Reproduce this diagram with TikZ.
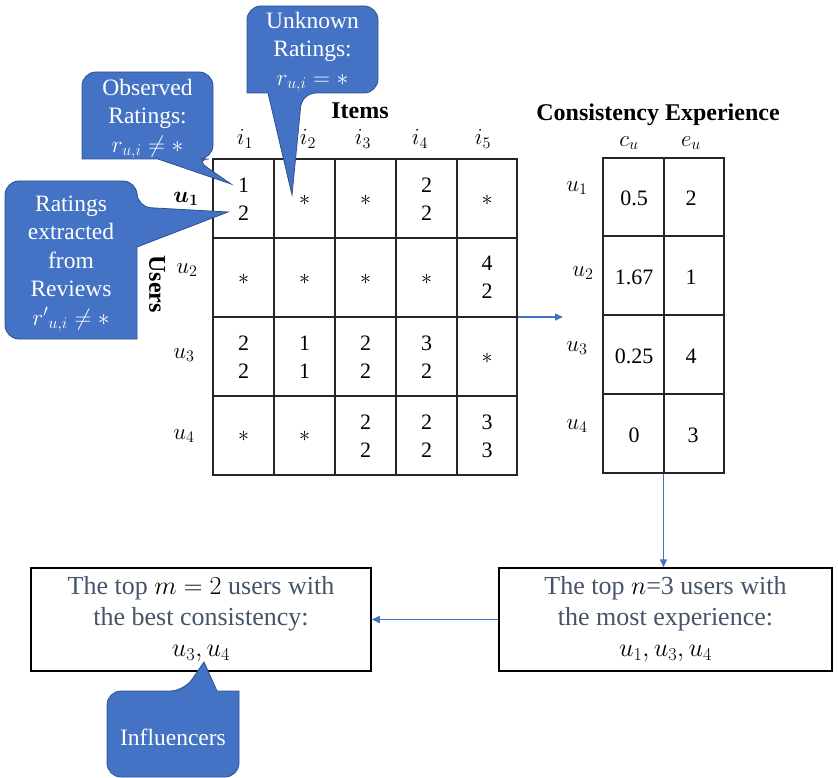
\RequirePackage{fix-cm}
\documentclass[tikz,border=0pt]{standalone}
\usepackage{bm}
\usepackage{fontspec}
\setmainfont{Liberation Serif}
\usetikzlibrary{arrows.meta}
\definecolor{callfill}{HTML}{4472C4}
\definecolor{callline}{HTML}{2F528F}
\definecolor{boxtext}{HTML}{44546A}
\definecolor{gridcol}{HTML}{262626}

\begin{document}
\begin{tikzpicture}[x=1pt,y=-1pt,
  cellnum/.style={font=\fontsize{22}{28}\selectfont, align=center, inner sep=0pt},
  lbl/.style={font=\fontsize{23}{26}\selectfont, inner sep=0pt},
  heading/.style={font=\fontsize{24}{28}\selectfont\bfseries, inner sep=0pt},
  tablebox/.style={draw=gridcol, line width=1.3pt, inner sep=0pt},
  gridline/.style={draw=gridcol, line width=1.3pt},
  callout/.style={fill=callfill, draw=callline, line width=0.8pt},
  callouttext/.style={text=white, align=center, font=\fontsize{23.5}{28.5}\selectfont, inner sep=0pt},
  flow/.style={draw=callfill, line width=1.5pt, -{Triangle[length=8pt,width=7pt]}},
  resultbox/.style={draw=black, line width=1.5pt, inner sep=0pt, text=boxtext,
    align=center, font=\fontsize{26}{31}\selectfont}]
\useasboundingbox (0,0) rectangle (838,778);

% ---------- rating matrix ----------
\node[tablebox, minimum width=304pt, minimum height=316pt] (R) at (365,317) {};
\foreach \x in {274,335,396,457} \draw[gridline] (\x,159) -- (\x,475);
\foreach \y in {238,317,396} \draw[gridline] (213,\y) -- (517,\y);

\node[heading] (items) at (360,111) {Items};
\node[heading, rotate=-90] (users) at (157,284) {Users};

\foreach \x/\k in {245/1,308/2,363/3,420/4,483/5}
  \node[lbl] (i\k) at (\x,139) {$i_{\k}$};

\node[lbl] (u1) at (186,199) {$\bm{u_1}$};
\node[lbl] (u2) at (187,270) {$u_2$};
\node[lbl] (u3) at (184,355) {$u_3$};
\node[lbl] (u4) at (184,436) {$u_4$};

% cell entries: column centre / row centre / content
\foreach \x/\y/\t/\nm in {
  243.5/199/{1\\2}/c11, 304.5/200/{$\ast$}/c12, 365.5/200/{$\ast$}/c13, 426.5/199/{2\\2}/c14, 487/200/{$\ast$}/c15,
  243.5/279/{$\ast$}/c21, 304.5/279/{$\ast$}/c22, 365.5/279/{$\ast$}/c23, 426.5/279/{$\ast$}/c24, 487/277/{4\\2}/c25,
  243.5/357/{2\\2}/c31, 304.5/357/{1\\1}/c32, 365.5/357/{2\\2}/c33, 426.5/357/{3\\2}/c34, 487/358/{$\ast$}/c35,
  243.5/436/{$\ast$}/c41, 304.5/436/{$\ast$}/c42, 365.5/436/{2\\2}/c43, 426.5/436/{2\\2}/c44, 487/436/{3\\3}/c45}
  \node[cellnum] (\nm) at (\x,\y) {\t};

% ---------- consistency / experience table ----------
\node[tablebox, minimum width=121pt, minimum height=315pt] (C) at (663.5,315.5) {};
\draw[gridline] (664,158) -- (664,473);
\foreach \y in {236,315,394} \draw[gridline] (603,\y) -- (724,\y);

\node[heading] (ce) at (658,115) {Consistency Experience};
\node[lbl] (cu) at (629,143) {$c_u$};
\node[lbl] (eu) at (691,143) {$e_u$};

\node[lbl] (v1) at (577,188) {$u_1$};
\node[lbl] (v2) at (583,273) {$u_2$};
\node[lbl] (v3) at (577,348) {$u_3$};
\node[lbl] (v4) at (577,426) {$u_4$};

\foreach \x/\y/\t/\nm in {
  634/198/0.5/d11, 691/198/2/d12,
  634/277/1.67/d21, 691/277/1/d22,
  634/356/0.25/d31, 691/356/4/d32,
  634/435/0/d41, 693/435/3/d42}
  \node[cellnum] (\nm) at (\x,\y) {\t};

% ---------- selection boxes ----------
\node[resultbox, minimum width=333pt, minimum height=103pt] (nbox) at (665.5,619.5)
  {The top \textcolor{black}{$n$}=3 users with\\the most experience:\\\textcolor{black}{$u_1,u_3,u_4$}};
\node[resultbox, minimum width=340pt, minimum height=103pt] (mbox) at (201,619.5)
  {The top \textcolor{black}{$m=2$} users with\\the best consistency:\\\textcolor{black}{$u_3,u_4$}};

% ---------- flow arrows ----------
\coordinate (a1end) at (563,317);
\draw[flow] (R.east) -- (a1end);
\draw[flow] (C.south) -- (C.south |- nbox.north);
\draw[flow] (nbox.west) -- (mbox.east);

% ---------- callouts ----------
\path[callout] (150,72) [rounded corners=14pt] -- (213,72) -- (213,159) -- (195,159)
  [sharp corners] -- (231,184) -- (158,159) -- (82,159)
  [rounded corners=14pt] -- (82,72) -- cycle;
\node[callouttext] (obs) at (147.5,119) {Observed\\Ratings:\\$r_{u,i}\neq\ast$};

\path[callout] (312,6) [rounded corners=14pt] -- (378,6) -- (378,93) -- (302,93)
  [sharp corners] -- (292,195) -- (268,93) -- (247,93)
  [rounded corners=14pt] -- (247,6) -- cycle;
\node[callouttext] (unk) at (312.5,52) {Unknown\\Ratings:\\$r_{u,i}=\ast$};

\path[callout] (70,181) [rounded corners=14pt] -- (137,181) -- (137,207)
  [sharp corners] -- (228,212) -- (137,247) -- (137,339)
  [rounded corners=14pt] -- (5,339) -- (5,181) -- cycle;
\node[callouttext] (ext) at (71,264) {Ratings\\extracted\\from\\Reviews\\${r'}_{u,i}\neq\ast$};

\path[callout] (173,777) [rounded corners=14pt] -- (107,777) -- (107,691) -- (184,691)
  [sharp corners] -- (204,662) -- (217,691) -- (239,691)
  [rounded corners=14pt] -- (239,777) -- cycle;
\node[callouttext] (inf) at (173,737) {Influencers};

\end{tikzpicture}
\end{document}
